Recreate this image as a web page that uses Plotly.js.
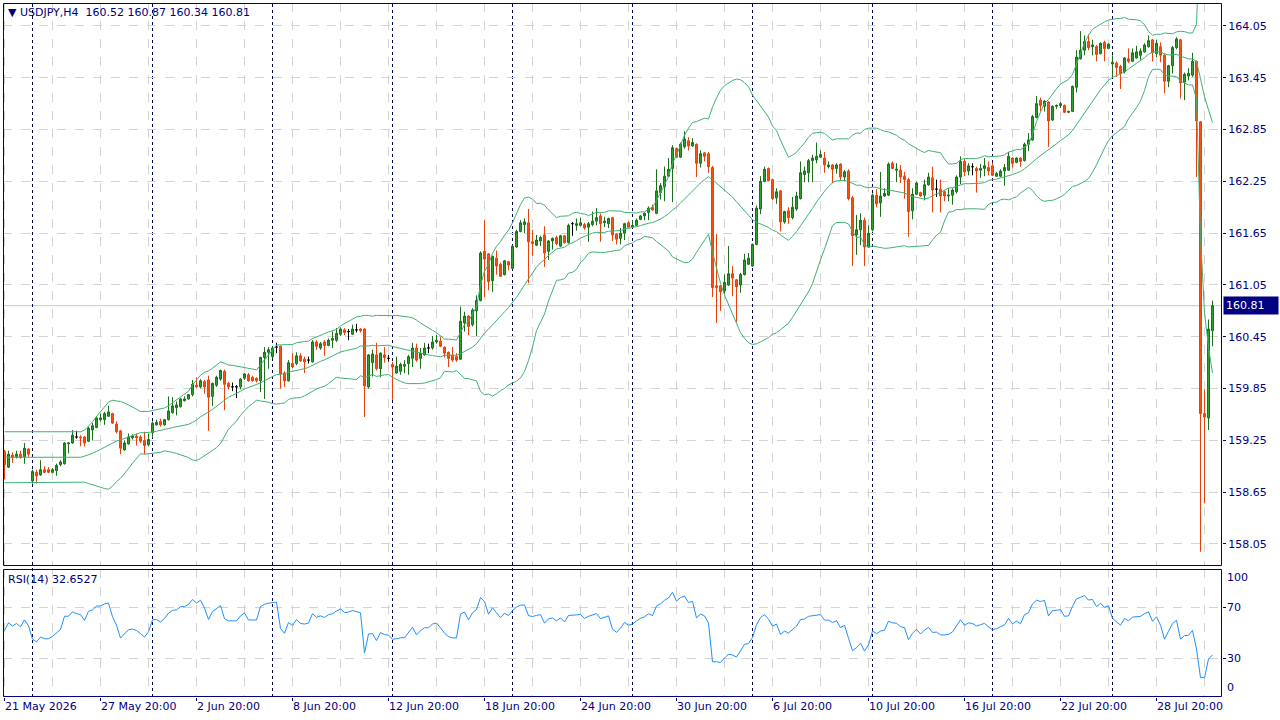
<!DOCTYPE html>
<html><head><meta charset="utf-8">
<script src="https://cdn.plot.ly/plotly-3.0.1.min.js"></script>
<style>html,body{margin:0;padding:0;background:#fff;}#chart{width:1280px;height:720px;}</style>
</head><body><div id="chart"></div>
<script>
const symbol = "USDJPY,H4";
const startTime = "2026-05-21T20:00:00Z";
const tickLabels = ["21 May 2026","27 May 20:00","2 Jun 20:00","8 Jun 20:00","12 Jun 20:00","18 Jun 20:00","24 Jun 20:00","30 Jun 20:00","6 Jul 20:00","10 Jul 20:00","16 Jul 20:00","22 Jul 20:00","28 Jul 20:00"];
const priceTicks = [158.05,158.65,159.25,159.85,160.45,161.05,161.65,162.25,162.85,163.45,164.05];
const rsiTicks = [0,30,70,100];
const rsiLabel = "RSI(14) 32.6527";

const opens = [
159.12,158.94,159.08,159.06,159.09,159.06,159.15,158.78,158.88,158.85,
158.91,158.91,158.88,158.90,158.97,158.98,159.21,159.22,159.29,159.29,
159.29,159.24,159.37,159.40,159.49,159.49,159.53,159.56,159.44,159.36,
159.14,159.21,159.28,159.30,159.29,159.25,159.20,159.34,159.43,159.47,
159.43,159.49,159.57,159.63,159.64,159.71,159.73,159.78,159.89,159.87,
159.93,159.95,159.76,159.89,159.96,160.05,159.91,159.87,159.87,159.87,
159.97,160.01,159.98,159.97,159.94,160.21,160.27,160.22,160.33,160.34,
160.03,159.94,160.14,160.14,160.23,160.19,160.18,160.16,160.39,160.32,
160.39,160.35,160.41,160.41,160.48,160.53,160.51,160.48,160.53,160.54,
160.54,159.87,160.15,160.24,160.08,160.24,160.20,160.13,160.03,160.05,
160.11,160.14,160.20,160.32,160.20,160.24,160.32,160.32,160.39,160.40,
160.33,160.27,160.24,160.22,160.19,160.61,160.69,160.59,160.75,160.87,
161.44,161.41,161.10,161.36,161.29,161.17,161.32,161.24,161.49,161.67,
161.75,161.77,161.55,161.51,161.56,161.63,161.44,161.56,161.60,161.50,
161.62,161.54,161.76,161.74,161.74,161.75,161.72,161.75,161.79,161.85,
161.77,161.76,161.83,161.64,161.59,161.65,161.77,161.72,161.74,161.81,
161.85,161.89,161.95,161.88,162.12,162.19,162.31,162.40,162.63,162.53,
162.65,162.72,162.66,162.68,162.46,162.58,162.57,162.41,161.04,161.04,
160.98,161.05,161.18,161.11,161.05,161.17,161.29,161.27,161.52,161.93,
162.25,162.40,162.27,162.06,162.14,161.78,161.91,161.83,161.93,162.05,
162.33,162.35,162.49,162.50,162.53,162.52,162.42,162.44,162.40,162.45,
162.30,162.37,162.06,161.63,161.69,161.80,161.49,161.69,162.09,162.00,
162.08,162.09,162.46,162.38,162.38,162.31,162.27,161.91,162.10,162.12,
162.09,162.21,162.29,162.16,162.16,162.13,162.08,162.09,162.13,162.30,
162.48,162.37,162.42,162.40,162.38,162.40,162.41,162.43,162.31,162.31,
162.37,162.38,162.52,162.47,162.52,162.49,162.68,162.73,162.99,163.19,
163.12,163.17,162.96,163.12,163.13,163.13,163.05,163.06,163.34,163.67,
163.77,163.87,163.81,163.81,163.73,163.86,163.79,163.61,163.62,163.58,
163.52,163.67,163.64,163.68,163.71,163.75,163.81,163.89,163.73,163.81,
163.71,163.41,163.59,163.80,163.89,163.40,163.47,163.48,163.64,162.94,159.56,159.51,160.52];

const highs = [
159.14,159.13,159.11,159.13,159.13,159.22,159.16,158.91,158.91,159.02,
158.95,158.94,158.93,158.98,159.02,159.23,159.23,159.37,159.36,159.31,
159.30,159.41,159.45,159.53,159.56,159.58,159.65,159.57,159.47,159.37,
159.25,159.33,159.32,159.33,159.31,159.35,159.33,159.47,159.49,159.50,
159.50,159.76,159.75,159.70,159.74,159.76,159.78,159.95,159.98,159.96,
159.95,160.00,159.92,160.00,160.07,160.07,159.93,159.92,159.89,159.97,
160.03,160.03,160.00,159.98,160.22,160.33,160.33,160.34,160.38,160.35,
160.05,160.18,160.26,160.27,160.26,160.22,160.22,160.41,160.41,160.39,
160.41,160.43,160.51,160.55,160.56,160.55,160.54,160.59,160.60,160.55,
160.55,160.25,160.30,160.38,160.27,160.33,160.24,160.16,160.22,160.15,
160.18,160.24,160.38,160.37,160.32,160.38,160.37,160.46,160.47,160.45,
160.34,160.28,160.33,160.26,160.80,160.74,160.70,160.78,160.93,161.44,
161.80,161.42,161.39,161.45,161.31,161.34,161.33,161.51,161.69,161.80,
161.82,161.93,161.69,161.63,161.62,161.73,161.57,161.60,161.62,161.63,
161.63,161.76,161.78,161.82,161.83,161.77,161.78,161.90,161.94,161.88,
161.84,161.83,161.84,161.65,161.71,161.77,161.79,161.80,161.82,161.86,
161.89,161.96,161.98,162.39,162.23,162.42,162.52,162.67,162.64,162.70,
162.83,162.76,162.75,162.69,162.61,162.59,162.59,162.43,161.64,161.05,
161.17,161.50,161.27,161.12,161.19,161.41,161.42,161.53,161.97,162.31,
162.42,162.41,162.28,162.17,162.15,161.91,161.95,162.07,162.13,162.48,
162.42,162.51,162.56,162.70,162.61,162.59,162.48,162.45,162.46,162.46,
162.38,162.39,162.08,161.86,161.88,161.83,161.74,162.11,162.16,162.36,
162.17,162.47,162.48,162.46,162.44,162.36,162.29,162.17,162.25,162.13,
162.27,162.35,162.42,162.27,162.27,162.15,162.17,162.17,162.32,162.54,
162.51,162.46,162.46,162.42,162.45,162.52,162.48,162.47,162.36,162.39,
162.45,162.59,162.53,162.53,162.53,162.70,162.81,163.02,163.24,163.22,
163.19,163.18,163.13,163.14,163.17,163.14,163.07,163.36,163.77,163.99,
163.94,163.95,163.89,163.83,163.86,163.88,163.85,163.71,163.64,163.60,
163.69,163.79,163.79,163.82,163.79,163.85,163.94,163.90,163.89,163.86,
163.73,163.60,163.82,163.92,163.90,163.51,163.56,163.74,163.65,162.95,159.84,160.65,160.87];

const lows = [
158.80,158.93,158.99,159.04,159.04,158.98,159.06,158.75,158.75,158.84,
158.87,158.87,158.87,158.84,158.95,158.97,159.10,159.21,159.27,159.18,
159.18,159.23,159.25,159.39,159.47,159.43,159.52,159.44,159.33,159.09,
159.13,159.20,159.26,159.19,159.22,159.09,159.18,159.28,159.42,159.41,
159.42,159.48,159.56,159.54,159.63,159.70,159.72,159.76,159.86,159.85,
159.79,159.36,159.65,159.87,159.94,159.60,159.84,159.82,159.74,159.84,
159.95,159.93,159.93,159.92,159.81,159.73,160.08,160.20,160.26,159.85,
159.87,159.93,160.09,160.12,160.16,160.03,160.14,160.15,160.30,160.30,
160.23,160.34,160.32,160.39,160.46,160.47,160.41,160.47,160.50,160.50,
159.52,159.85,159.99,160.06,159.98,160.15,160.16,159.72,160.02,160.01,
160.03,160.01,160.10,160.16,160.08,160.23,160.26,160.30,160.37,160.33,
160.21,160.10,160.16,160.16,160.18,160.51,160.47,160.57,160.46,160.86,
160.91,160.99,160.97,161.17,161.15,161.16,161.22,161.23,161.48,161.66,
161.65,161.07,161.39,161.50,161.50,161.26,161.34,161.46,161.51,161.49,
161.53,161.53,161.62,161.68,161.73,161.69,161.55,161.73,161.74,161.55,
161.72,161.71,161.56,161.52,161.52,161.57,161.71,161.71,161.73,161.80,
161.80,161.80,161.91,161.87,162.04,162.02,162.30,162.01,162.52,162.52,
162.63,162.61,162.65,162.30,162.41,162.48,162.35,160.91,160.61,160.75,
160.95,161.04,160.92,160.62,160.96,161.16,161.28,161.26,161.51,161.87,
162.24,162.25,162.03,161.99,161.67,161.76,161.76,161.81,161.91,162.04,
162.24,162.24,162.24,162.46,162.52,162.35,162.40,162.23,162.34,162.26,
162.25,162.03,161.27,161.40,161.51,161.27,161.48,161.67,161.95,161.84,
162.07,162.08,162.39,162.24,162.23,162.05,161.61,161.81,162.09,162.07,
162.03,162.20,161.89,162.07,161.89,162.02,162.02,161.98,162.11,162.22,
162.31,162.32,162.32,162.12,162.29,162.31,162.32,162.31,162.30,162.30,
162.20,162.37,162.41,162.46,162.42,162.48,162.60,162.72,162.98,163.06,
163.06,162.65,162.95,163.09,163.10,163.04,163.04,163.06,163.28,163.66,
163.71,163.77,163.71,163.64,163.72,163.64,163.78,163.45,163.46,163.32,
163.50,163.62,163.64,163.67,163.66,163.74,163.80,163.64,163.69,163.63,
163.27,163.34,163.50,163.78,163.21,163.19,163.42,163.46,162.30,157.96,158.52,159.37,160.34];

const closes = [
158.97,159.09,159.05,159.09,159.05,159.16,159.09,158.89,158.84,158.91,
158.88,158.88,158.91,158.96,159.00,159.22,159.22,159.31,159.29,159.28,
159.22,159.39,159.42,159.51,159.51,159.56,159.58,159.45,159.35,159.16,
159.22,159.29,159.30,159.28,159.24,159.19,159.26,159.45,159.46,159.43,
159.49,159.59,159.65,159.66,159.73,159.73,159.78,159.90,159.87,159.94,
159.87,159.75,159.91,159.98,160.06,159.90,159.87,159.87,159.87,159.96,
160.02,159.94,159.94,159.94,160.21,160.27,160.30,160.32,160.33,160.02,
159.94,160.15,160.10,160.23,160.17,160.16,160.18,160.39,160.34,160.37,
160.35,160.41,160.43,160.49,160.54,160.50,160.51,160.54,160.53,160.52,
159.88,160.24,160.25,160.08,160.26,160.21,160.20,160.10,160.11,160.13,
160.13,160.22,160.32,160.18,160.26,160.32,160.32,160.39,160.41,160.34,
160.26,160.20,160.18,160.18,160.63,160.69,160.57,160.76,160.87,161.42,
161.35,161.09,161.38,161.27,161.15,161.33,161.28,161.50,161.67,161.77,
161.78,161.55,161.53,161.57,161.60,161.42,161.56,161.59,161.53,161.62,
161.54,161.74,161.76,161.76,161.77,161.71,161.76,161.79,161.83,161.76,
161.79,161.82,161.63,161.58,161.65,161.76,161.72,161.74,161.80,161.85,
161.88,161.94,161.92,162.14,162.20,162.31,162.39,162.64,162.53,162.68,
162.74,162.66,162.70,162.46,162.57,162.54,162.42,161.02,161.02,160.97,
161.08,161.18,161.13,161.03,161.17,161.34,161.36,161.52,161.94,162.25,
162.39,162.26,162.05,162.13,161.78,161.90,161.83,161.95,162.08,162.35,
162.37,162.49,162.52,162.54,162.56,162.44,162.44,162.39,162.44,162.30,
162.36,162.05,161.62,161.69,161.80,161.49,161.65,162.09,161.99,162.08,
162.11,162.45,162.40,162.39,162.30,162.27,161.90,162.10,162.23,162.08,
162.21,162.30,162.15,162.16,162.08,162.08,162.09,162.15,162.30,162.48,
162.36,162.43,162.42,162.37,162.40,162.43,162.37,162.32,162.34,162.37,
162.41,162.54,162.46,162.52,162.48,162.68,162.73,163.00,163.15,163.13,
163.18,162.95,163.12,163.13,163.15,163.05,163.06,163.35,163.69,163.77,
163.87,163.80,163.83,163.72,163.85,163.79,163.84,163.63,163.57,163.50,
163.68,163.64,163.74,163.75,163.76,163.83,163.88,163.74,163.85,163.71,
163.41,163.59,163.80,163.90,163.39,163.49,163.50,163.64,162.95,159.56,159.52,160.54,160.81];

// ---- derived: bar times (4h bars, weekdays only) ----
const MONTHS = ["Jan","Feb","Mar","Apr","May","Jun","Jul","Aug","Sep","Oct","Nov","Dec"];
const times = [];
{ let t = new Date(startTime).getTime();
  for (let i = 0; i < closes.length; i++) {
    times.push(new Date(t));
    t += 4*3600e3;
    let d = new Date(t).getUTCDay();
    while (d === 6 || d === 0) { t += 24*3600e3; d = new Date(t).getUTCDay(); }
  } }
const pad = n => String(n).padStart(2,"0");
const fmtTime = d => `${d.getUTCDate()} ${MONTHS[d.getUTCMonth()]} ${pad(d.getUTCHours())}:${pad(d.getUTCMinutes())}`;
const fmtDate = d => `${d.getUTCDate()} ${MONTHS[d.getUTCMonth()]} ${d.getUTCFullYear()}`;
const idx = closes.map((_, i) => i);
const tickIdx = tickLabels.map(l => times.findIndex(d => fmtTime(d) === l || fmtDate(d) === l));
const sepIdx = idx.filter(i => times[i].getUTCDay() === 1 && times[i].getUTCHours() === 0);

// ---- indicators from closes ----
function bands(c, n, k) {
  const up = [], mid = [], lo = [];
  for (let i = 0; i < c.length; i++) {
    const e = Math.max(i, n - 1), s = e - n + 1;
    const w = c.slice(s, e + 1);
    const m = w.reduce((a, b) => a + b, 0) / n;
    const sd = Math.sqrt(w.reduce((a, b) => a + (b - m) * (b - m), 0) / n);
    mid.push(m); up.push(m + k * sd); lo.push(m - k * sd);
  }
  return { up, mid, lo };
}
function rsiCalc(c, n) {
  let g = 0, l = 0;
  for (let i = 1; i <= n; i++) { const d = c[i] - c[i-1]; if (d > 0) g += d; else l -= d; }
  g /= n; l /= n;
  const out = [100 * g / (g + l)];
  for (let i = 1; i < c.length; i++) {
    const d = c[i] - c[i-1];
    g = (g * (n - 1) + Math.max(d, 0)) / n;
    l = (l * (n - 1) + Math.max(-d, 0)) / n;
    out.push(l === 0 ? 100 : 100 * g / (g + l));
  }
  return out;
}
const bb = bands(closes, 20, 2);
const rsi = rsiCalc(closes, 14);

// ---- styling ----
const NAVY = "#000080", GRID = "#d3d3d3";
const FONT = { family: "DejaVu Sans, Verdana, sans-serif", size: 11, color: NAVY };
const BULL_FILL = "#2ea42e", BULL_LINE = "#1d6f1d";
const BEAR_FILL = "#ff4f10", BEAR_LINE = "#e8420c";
const BB_COLOR = "#3cb371", RSI_COLOR = "#1e90ff";

function candleTrace(filterFn, line, fill) {
  const ii = idx.filter(filterFn);
  return {
    type: "candlestick", xaxis: "x", yaxis: "y",
    x: ii, open: ii.map(i => opens[i]), high: ii.map(i => highs[i]),
    low: ii.map(i => lows[i]), close: ii.map(i => closes[i]),
    increasing: { line: { color: line, width: 1 }, fillcolor: fill },
    decreasing: { line: { color: line, width: 1 }, fillcolor: fill },
    whiskerwidth: 0, showlegend: false, hoverinfo: "skip"
  };
}
const bbLine = y => ({ type: "scatter", mode: "lines", x: idx, y, xaxis: "x", yaxis: "y",
  line: { color: BB_COLOR, width: 1 }, showlegend: false, hoverinfo: "skip" });

const traces = [
  candleTrace(i => closes[i] > opens[i], BULL_LINE, BULL_FILL),
  candleTrace(i => closes[i] < opens[i], BEAR_LINE, BEAR_FILL),
  candleTrace(i => closes[i] === opens[i], "#000000", "#000000"),
  bbLine(bb.up), bbLine(bb.mid), bbLine(bb.lo),
  { type: "scatter", mode: "lines", x: idx, y: rsi, xaxis: "x", yaxis: "y2",
    line: { color: RSI_COLOR, width: 1 }, showlegend: false, hoverinfo: "skip" }
];

// geometry: plot area x 3..1222 (1219px), y 3..697 (694px); main panel 3..566, RSI 569..697
const W = 1219, H = 694;
const mainDom = [(697 - 566) / H, 1];
const rsiDom = [0, (697 - 569) / H];
const px = 0.5 / W, py = 0.5 / H;
const last = closes.length - 1;

const shapes = [
  { type: "rect", xref: "paper", yref: "paper", x0: px, x1: 1 - px, y0: mainDom[0] + py, y1: mainDom[1] - py, line: { color: NAVY, width: 1 }, layer: "above" },
  { type: "rect", xref: "paper", yref: "paper", x0: px, x1: 1 - px, y0: rsiDom[0] + py, y1: rsiDom[1] - py, line: { color: NAVY, width: 1 }, layer: "above" },
  { type: "line", xref: "paper", yref: "y", x0: 0, x1: 1, y0: closes[last], y1: closes[last], line: { color: "#c8c8c8", width: 1 }, layer: "between" }
];
sepIdx.forEach(i => shapes.push({ type: "line", xref: "x", yref: "paper", x0: i, x1: i, y0: 0, y1: 1,
  line: { color: "#000050", width: 1, dash: "3px,3px" }, layer: "between" }));

const annotations = [
  { xref: "paper", yref: "paper", x: 0, y: 1, xanchor: "left", yanchor: "top", xshift: 3, yshift: -1,
    showarrow: false, font: FONT,
    text: `▼ ${symbol}  ${opens[last].toFixed(2)} ${highs[last].toFixed(2)} ${lows[last].toFixed(2)} ${closes[last].toFixed(2)}` },
  { xref: "paper", yref: "paper", x: 0, y: rsiDom[1], xanchor: "left", yanchor: "top", xshift: 3, yshift: -2,
    showarrow: false, font: FONT, text: rsiLabel },
  { xref: "paper", yref: "y", x: 1, y: closes[last], xanchor: "left", yanchor: "middle", xshift: 1,
    showarrow: false, bgcolor: NAVY, borderpad: 2, width: 50, align: "left",
    font: { family: FONT.family, size: 11, color: "#ffffff" }, text: closes[last].toFixed(2) }
];
rsiTicks.forEach(v => annotations.push({ xref: "paper", yref: "y2", x: 1, y: v, xanchor: "left", yanchor: "middle",
  xshift: 3, yshift: v === 100 ? -8 : (v === 0 ? 9 : 0), showarrow: false, font: FONT, text: String(v) }));
tickLabels.forEach((l, k) => annotations.push({ xref: "x", yref: "paper", x: tickIdx[k], y: 0,
  xanchor: "left", yanchor: "top", xshift: -2, yshift: -1, showarrow: false, font: FONT, text: l }));

const layout = {
  width: 1280, height: 720,
  margin: { l: 3, r: 58, t: 3, b: 23, pad: 0 },
  paper_bgcolor: "#ffffff", plot_bgcolor: "#ffffff",
  showlegend: false, hovermode: false, dragmode: false,
  font: FONT,
  xaxis: {
    domain: [0, 1], anchor: "y2", range: [-0.375, 304.375], autorange: false,
    tickmode: "linear", tick0: 0, dtick: 24, showticklabels: false,
    ticks: "outside", ticklen: 3, tickcolor: NAVY,
    showgrid: true, gridcolor: GRID, griddash: "dash", gridwidth: 1,
    minor: { tick0: 0, dtick: 12, showgrid: true, gridcolor: GRID, griddash: "dash", gridwidth: 1, ticks: "" },
    zeroline: false, showline: false, rangeslider: { visible: false }, fixedrange: true
  },
  yaxis: {
    domain: mainDom, side: "right", range: [157.795, 164.316], autorange: false,
    tickmode: "array", tickvals: priceTicks, ticktext: priceTicks.map(v => v.toFixed(2)),
    ticks: "outside", ticklen: 3, tickcolor: NAVY, tickfont: FONT,
    showgrid: true, gridcolor: GRID, griddash: "dash", gridwidth: 1,
    zeroline: false, showline: false, fixedrange: true
  },
  yaxis2: {
    domain: rsiDom, side: "right", range: [-0.35, 100], autorange: false,
    tickmode: "array", tickvals: [30, 70], showticklabels: false,
    ticks: "outside", ticklen: 3, tickcolor: NAVY,
    showgrid: true, gridcolor: GRID, griddash: "dash", gridwidth: 1,
    zeroline: false, showline: false, fixedrange: true
  },
  shapes, annotations
};

Plotly.newPlot("chart", traces, layout, { staticPlot: true, displayModeBar: false });
</script>
</body></html>
